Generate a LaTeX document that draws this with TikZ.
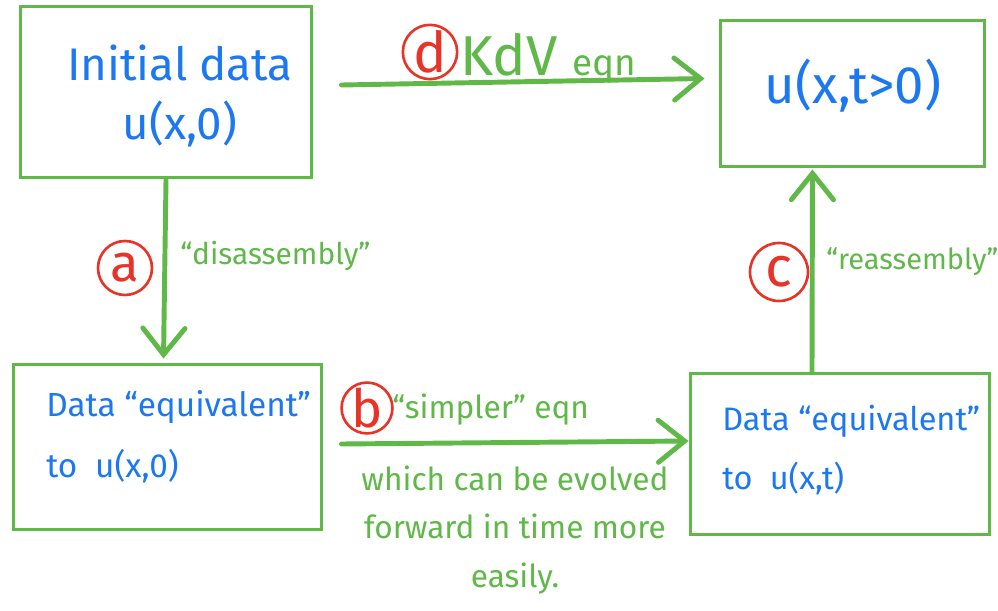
\documentclass[tikz,border=0pt]{standalone}
\usepackage{fontspec}
\setmainfont{Fira Sans}
\usetikzlibrary{arrows.meta}
\definecolor{pen}{RGB}{96,184,72}
\definecolor{ink}{RGB}{28,120,240}
\definecolor{marker}{RGB}{232,52,40}
\newcommand{\fs}[1]{\fontsize{#1}{1.3\dimexpr#1pt\relax}\selectfont}
\begin{document}
\begin{tikzpicture}[x=0.02cm,y=-0.02cm,
  box/.style={draw=pen, line width=1.7pt, inner sep=0pt},
  boxtext/.style={text=ink, inner sep=0pt},
  flow/.style={draw=pen, line width=2.8pt, line cap=round,
    -{Straight Barb[length=15pt,width=24pt,line cap=round]}},
  tag/.style={circle, draw=marker, line width=1.5pt, text=marker, inner sep=0pt},
  note/.style={text=pen, inner sep=0pt}]
\useasboundingbox (0,0) rectangle (998,611);

% the four stages
\node[box, minimum width=5.84cm, minimum height=3.44cm] (init) at (166,92) {};
\node[box, minimum width=5.30cm, minimum height=2.94cm] (ut) at (852.5,93.5) {};
\node[box, minimum width=6.18cm, minimum height=3.32cm] (eqv0) at (167.5,447) {};
\node[box, minimum width=6.00cm, minimum height=3.24cm] (eqvt) at (840,454) {};

\node[boxtext, align=center, font=\fs{26}] (initlbl) at (180,96) {Initial data\\[0pt]u(x,0)};
\node[boxtext, font=\fs{30}] (utlbl) at (853,86) {u(x,t>0)};
\node[boxtext, align=left, anchor=west, font=\fs{19}] (eqv0lbl) at (46,437)
  {Data “equivalent”\\[10pt]to\ \ u(x,0)};
\node[boxtext, align=left, anchor=west, font=\fs{18.5}] (eqvtlbl) at (722,450)
  {Data “equivalent”\\[10pt]to\ \ u(x,t)};

% connectors
\draw[flow] ([shift={(28,-7)}]init.east) -- ([shift={(-14,-15)}]ut.west);
\draw[flow] (init.south) -- ([shift={(-4,-4)}]eqv0.north);
\draw[flow] ([shift={(-28,0)}]eqvt.north) -- ([shift={(-40,1)}]ut.south);
\draw[flow] ([shift={(18,-3)}]eqv0.east) -- ([shift={(0,-13)}]eqvt.west);

% circled step letters
\node[tag, minimum size=1.04cm, font=\fs{32}] (tagd) at (430,52) {d};
\node[tag, minimum size=1.08cm, font=\fs{30}] (taga) at (125,268) {a};
\node[tag, minimum size=0.96cm, font=\fs{30}] (tagb) at (367,408) {b};
\node[tag, minimum size=1.16cm, font=\fs{32}] (tagc) at (779,272) {c};

% step labels
\node[note, anchor=base west] (kdv) at (460,76) {\fs{32}KdV \fs{21}eqn};
\node[note, anchor=west, font=\fs{17}] (disasm) at (180,256) {“disassembly”};
\node[note, anchor=west, font=\fs{16.5}] (reasm) at (826,262) {“reassembly”};
\node[note, anchor=west, font=\fs{18}] (simpler) at (392,410) {“simpler” eqn};
\node[note, align=center, font=\fs{18}] (evolve) at (515,530)
  {which can be evolved\\[4pt]forward in time more\\[4pt]easily.};
\end{tikzpicture}
\end{document}
